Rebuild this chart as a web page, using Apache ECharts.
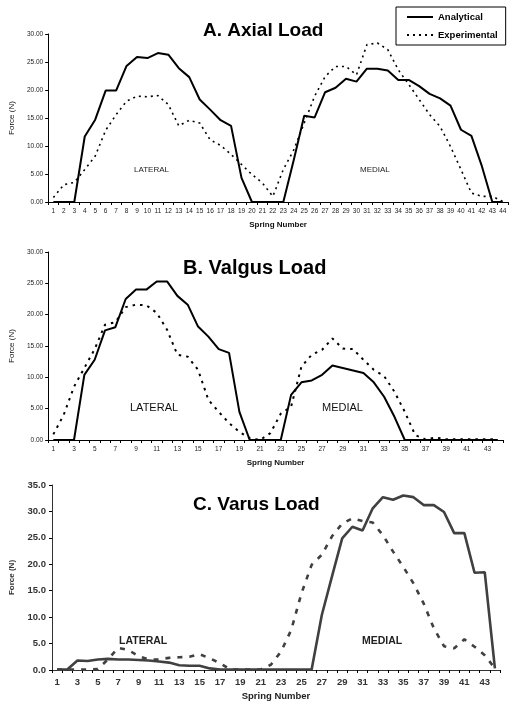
<!DOCTYPE html>
<html>
<head>
<meta charset="utf-8">
<script src="https://cdn.jsdelivr.net/npm/echarts@6/dist/echarts.min.js"></script>
<style>
html,body{margin:0;padding:0;background:#fff;}
#c{width:516px;height:706px;}
</style>
</head>
<body>
<div id="c"></div>
<script>
// Categories: spring numbers
const springs = ['1','2','3','4','5','6','7','8','9','10','11','12','13','14','15','16','17','18','19','20','21','22','23','24','25','26','27','28','29','30','31','32','33','34','35','36','37','38','39','40','41','42','43','44'];

// A. Axial Load
const axialAnalytical = [0,0,0,11.7,14.7,19.9,19.9,24.3,25.9,25.7,26.6,26.3,23.9,22.3,18.3,16.5,14.6,13.6,4.3,0,0,0,0,7.5,15.4,15.1,19.6,20.4,22.0,21.5,23.8,23.8,23.5,21.8,21.8,20.7,19.3,18.5,17.2,12.9,11.8,6.4,0,0];
const axialExperimental = [0.8,3.1,3.5,5.8,8.2,12.8,15.6,18.0,18.9,18.8,19.0,17.4,13.6,14.6,14.1,11.1,10.1,8.5,6.7,4.9,3.4,1.0,5.8,9.3,14.1,18.9,22.4,24.2,24.2,22.7,28.1,28.4,27.2,23.6,21.0,18.3,15.6,13.5,9.9,5.8,1.6,1.0,1.0,0.1];

// B. Valgus Load
const valgusAnalytical = [0,0,0,10.4,12.8,17.5,18.0,22.5,24.0,24.0,25.3,25.3,23.0,21.6,18.1,16.5,14.5,13.9,4.5,0,0,0,0,7.2,9.2,9.5,10.4,11.9,11.5,11.1,10.7,9.2,6.9,3.7,0,0,0,0,0,0,0,0,0,0];
const valgusExperimental = [0.9,4.0,8.5,11.5,14.5,18.4,18.8,21.2,21.6,21.5,20.3,17.6,13.6,13.3,11.2,6.4,4.5,2.7,1.3,0.3,0.0,1.1,4.2,5.3,11.7,13.6,14.4,16.2,14.6,14.5,12.8,11.2,10.2,7.7,4.5,0.8,0.1,0.4,0.1,0.1,0.1,0.1,0.1,0.1];

// C. Varus Load
const varusAnalytical = [0.1,0.1,1.8,1.7,2.0,2.1,2.0,2.0,1.9,1.8,1.6,1.4,0.9,0.8,0.8,0.3,0.1,0.1,0.1,0.1,0.1,0.1,0.1,0.1,0.1,0.1,10.4,17.7,24.9,27.1,26.4,30.6,32.7,32.2,33.0,32.7,31.2,31.2,29.9,25.9,25.9,18.4,18.5,0.3];
const varusExperimental = [0.1,0.1,0.1,0.1,0.2,2.0,4.2,3.8,2.6,2.0,2.0,2.3,2.4,2.5,3.0,2.2,1.3,0.1,0.1,0.1,0.1,1.0,3.5,7.6,14.5,19.9,21.8,25.3,27.7,28.7,28.2,27.9,25.5,22.4,19.5,16.4,12.6,7.9,4.5,4.1,5.8,4.4,2.8,0.3];

// Tick / annotation texts
const titles = ['A. Axial Load','B. Valgus Load','C. Varus Load'];
const seriesNames = ['Analytical','Experimental'];

const FONT = '"Liberation Sans", Arial, sans-serif';
const chart = echarts.init(document.getElementById('c'), null, {renderer:'canvas'});

function xAx(gi, opts) {
  return Object.assign({
    type:'category', gridIndex:gi, data:springs, boundaryGap:true,
    name:'Spring Number', nameLocation:'middle', nameGap:19,
    nameTextStyle:{fontFamily:FONT, fontSize:8, fontWeight:'bold', color:'#111'},
    axisLine:{lineStyle:{color:'#000', width:1}},
    axisTick:{show:true, interval:0, length:3, lineStyle:{color:'#000'}},
    axisLabel:{fontFamily:FONT, fontSize:6.5, color:'#222', margin:6, interval:0}
  }, opts || {});
}
function yAx(gi, max, dec, opts) {
  return Object.assign({
    type:'value', gridIndex:gi, min:0, max:max, interval:5,
    name:'Force (N)', nameLocation:'middle', nameRotate:90, nameGap:31,
    nameTextStyle:{fontFamily:FONT, fontSize:8, color:'#111'},
    axisLine:{show:true, lineStyle:{color:'#000', width:1}},
    axisTick:{show:true, length:3, lineStyle:{color:'#000'}},
    splitLine:{show:false},
    axisLabel:{fontFamily:FONT, fontSize:6.5, color:'#222', margin:5,
      formatter:(v)=>v.toFixed(dec)}
  }, opts || {});
}

function line(name, gi, data, isExp, color, width, dash) {
  return {
    name:name, type:'line', xAxisIndex:gi, yAxisIndex:gi, data:data,
    symbol:'none', showSymbol:false, animation:false,
    lineStyle:{color:color, width:width, type: isExp ? dash : 'solid'},
    itemStyle:{color:color}
  };
}

const option = {
  animation:false,
  backgroundColor:'#fff',
  title: [
    {text:titles[0], left:203, top:21, padding:0, textStyle:{fontFamily:FONT, fontSize:19, fontWeight:'bold', color:'#000'}},
    {text:titles[1], left:183, top:258, padding:0, textStyle:{fontFamily:FONT, fontSize:20, fontWeight:'bold', color:'#000'}},
    {text:titles[2], left:193, top:495, padding:0, textStyle:{fontFamily:FONT, fontSize:19, fontWeight:'bold', color:'#000'}}
  ],
  legend: {
    data:seriesNames, orient:'vertical', left:396, top:7,
    padding:[5,8,5,10], itemGap:8, itemWidth:26, itemHeight:12,
    borderColor:'#000', borderWidth:1, backgroundColor:'#fff',
    itemStyle:{color:'transparent', borderWidth:0, opacity:0},
    textStyle:{fontFamily:FONT, fontSize:9.5, fontWeight:'bold', color:'#000'},
    selectedMode:false
  },
  grid: [
    {left:43, right:8, top:34, height:168},
    {left:42, right:13, top:252, height:188},
    {left:52, right:16, top:485, height:185}
  ],
  xAxis: [
    xAx(0),
    xAx(1, {axisLabel:{fontFamily:FONT, fontSize:6.5, color:'#222', margin:6, interval:1}}),
    xAx(2, {nameGap:21,
      nameTextStyle:{fontFamily:FONT, fontSize:9.5, fontWeight:'bold', color:'#222'},
      axisLine:{lineStyle:{color:'#333', width:1}},
      axisLabel:{fontFamily:FONT, fontSize:9.5, fontWeight:'bold', color:'#333', margin:7, interval:1}})
  ],
  yAxis: [
    yAx(0, 30, 2),
    yAx(1, 30, 2, {nameGap:30}),
    yAx(2, 35, 1, {nameGap:36,
      nameTextStyle:{fontFamily:FONT, fontSize:8, fontWeight:'bold', color:'#333'},
      axisLine:{show:true, lineStyle:{color:'#333', width:1}},
      axisLabel:{fontFamily:FONT, fontSize:9.5, fontWeight:'bold', color:'#333', margin:6, formatter:(v)=>v.toFixed(1)}})
  ],
  series: [
    line(seriesNames[0], 0, axialAnalytical, false, '#000', 2),
    line(seriesNames[1], 0, axialExperimental, true, '#000', 1.6, [2,4]),
    line(seriesNames[0], 1, valgusAnalytical, false, '#000', 2),
    line(seriesNames[1], 1, valgusExperimental, true, '#000', 2, [2.5,5]),
    line(seriesNames[0], 2, varusAnalytical, false, '#404040', 2.6),
    line(seriesNames[1], 2, varusExperimental, true, '#404040', 2.6, [5,7])
  ],
  graphic: [
    {type:'text', left:134, top:166, style:{text:'LATERAL', font:'8px '+FONT, fill:'#222'}},
    {type:'text', left:360, top:166, style:{text:'MEDIAL', font:'8px '+FONT, fill:'#222'}},
    {type:'text', left:130, top:402, style:{text:'LATERAL', font:'11px '+FONT, fill:'#111'}},
    {type:'text', left:322, top:402, style:{text:'MEDIAL', font:'11px '+FONT, fill:'#111'}},
    {type:'text', left:119, top:636, style:{text:'LATERAL', font:'bold 10.5px '+FONT, fill:'#222'}},
    {type:'text', left:362, top:636, style:{text:'MEDIAL', font:'bold 10.5px '+FONT, fill:'#222'}}
  ]
};
chart.setOption(option);
</script>
</body>
</html>
